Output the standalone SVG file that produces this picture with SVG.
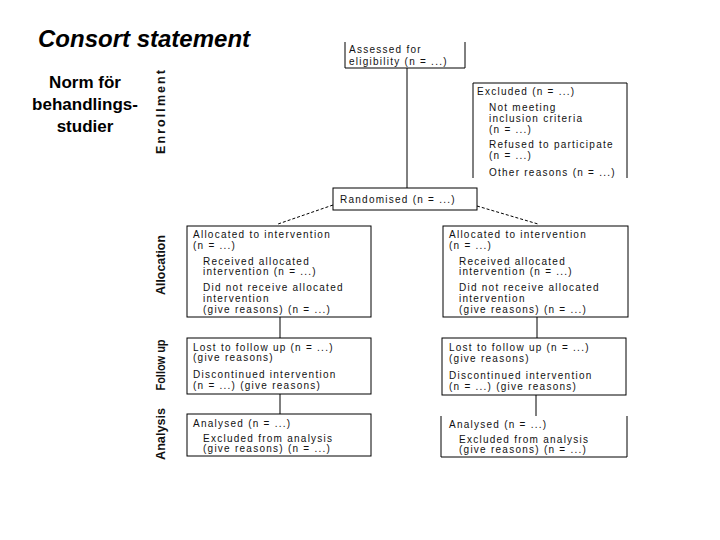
<svg xmlns="http://www.w3.org/2000/svg" width="720" height="540" viewBox="0 0 720 540">
<style>
.t{font-family:"Liberation Sans",Arial,sans-serif;font-size:10px;letter-spacing:1.25px;fill:#111}
.b{fill:#fff;stroke:#000;stroke-width:1}
.o{fill:none;stroke:#000;stroke-width:1}
.l{stroke:#000;stroke-width:1;fill:none}
.d{stroke:#000;stroke-width:1;fill:none;stroke-dasharray:3,2}
.ph{font-family:"Liberation Sans",Arial,sans-serif;font-size:12.5px;font-weight:bold;fill:#111}
</style>
<rect width="720" height="540" fill="#fff"/>
<text x="38" y="47" font-family="Liberation Sans,Arial,sans-serif" font-size="24" font-style="italic" font-weight="bold" fill="#000">Consort statement</text>
<g font-family="Liberation Sans,Arial,sans-serif" font-size="17" font-weight="bold" text-anchor="middle" fill="#000">
<text x="85" y="88">Norm för</text>
<text x="85" y="110">behandlings-</text>
<text x="85" y="132">studier</text>
</g>
<g id="phases">
<text class="ph" transform="translate(165,112) rotate(-90)" text-anchor="middle" textLength="84" lengthAdjust="spacing">Enrollment</text>
<text class="ph" transform="translate(165,265) rotate(-90)" text-anchor="middle" textLength="60" lengthAdjust="spacingAndGlyphs">Allocation</text>
<text class="ph" transform="translate(165,365) rotate(-90)" text-anchor="middle" textLength="51" lengthAdjust="spacingAndGlyphs">Follow up</text>
<text class="ph" transform="translate(165,434) rotate(-90)" text-anchor="middle" textLength="52" lengthAdjust="spacingAndGlyphs">Analysis</text>
</g>
<g id="connectors">
<line class="l" x1="407" y1="68" x2="407" y2="188"/>
<line class="d" x1="333" y1="205" x2="278" y2="224"/>
<line class="d" x1="477" y1="206" x2="538" y2="224"/>
<line class="l" x1="280" y1="317" x2="280" y2="338"/>
<line class="l" x1="537" y1="317" x2="537" y2="338"/>
<line class="l" x1="280" y1="394" x2="280" y2="414"/>
<line class="l" x1="536" y1="395" x2="536" y2="416"/>
</g>
<g id="assessed">
<path class="o" d="M345,42 V68 H465 V42"/>
<text class="t" x="349" y="53">Assessed for</text>
<text class="t" x="349" y="65">eligibility (n = ...)</text>
</g>
<g id="excluded">
<path class="o" d="M473,178 V83 H627 V178"/>
<text class="t" x="477" y="95">Excluded (n = ...)</text>
<text class="t" x="489" y="111">Not meeting</text>
<text class="t" x="489" y="122">inclusion criteria</text>
<text class="t" x="489" y="133">(n = ...)</text>
<text class="t" x="489" y="148">Refused to participate</text>
<text class="t" x="489" y="159">(n = ...)</text>
<text class="t" x="489" y="176">Other reasons (n = ...)</text>
</g>
<g id="randomised">
<rect class="b" x="333" y="188" width="144" height="22"/>
<text class="t" x="340" y="203">Randomised (n = ...)</text>
</g>
<g id="alloc-left">
<rect class="b" x="187" y="226" width="184" height="91"/>
<text class="t" x="193" y="238">Allocated to intervention</text>
<text class="t" x="193" y="249">(n = ...)</text>
<text class="t" x="203" y="265">Received allocated</text>
<text class="t" x="203" y="275">intervention (n = ...)</text>
<text class="t" x="203" y="291">Did not receive allocated</text>
<text class="t" x="203" y="302">intervention</text>
<text class="t" x="203" y="313">(give reasons) (n = ...)</text>
</g>
<g id="alloc-right">
<rect class="b" x="443" y="226" width="185" height="91"/>
<text class="t" x="449" y="238">Allocated to intervention</text>
<text class="t" x="449" y="249">(n = ...)</text>
<text class="t" x="459" y="265">Received allocated</text>
<text class="t" x="459" y="275">intervention (n = ...)</text>
<text class="t" x="459" y="291">Did not receive allocated</text>
<text class="t" x="459" y="302">intervention</text>
<text class="t" x="459" y="313">(give reasons) (n = ...)</text>
</g>
<g id="follow-left">
<rect class="b" x="187" y="338" width="184" height="56"/>
<text class="t" x="193" y="351">Lost to follow up (n = ...)</text>
<text class="t" x="193" y="361">(give reasons)</text>
<text class="t" x="193" y="378">Discontinued intervention</text>
<text class="t" x="193" y="389">(n = ...) (give reasons)</text>
</g>
<g id="follow-right">
<rect class="b" x="442" y="338" width="184" height="57"/>
<text class="t" x="449" y="351">Lost to follow up (n = ...)</text>
<text class="t" x="449" y="362">(give reasons)</text>
<text class="t" x="449" y="379">Discontinued intervention</text>
<text class="t" x="449" y="390">(n = ...) (give reasons)</text>
</g>
<g id="analysis-left">
<rect class="b" x="187" y="414" width="184" height="42"/>
<text class="t" x="193" y="427">Analysed (n = ...)</text>
<text class="t" x="203" y="442">Excluded from analysis</text>
<text class="t" x="203" y="452">(give reasons) (n = ...)</text>
</g>
<g id="analysis-right">
<path class="o" d="M441,416 V457 H627 V416"/>
<text class="t" x="449" y="428">Analysed (n = ...)</text>
<text class="t" x="459" y="443">Excluded from analysis</text>
<text class="t" x="459" y="453">(give reasons) (n = ...)</text>
</g>
</svg>
